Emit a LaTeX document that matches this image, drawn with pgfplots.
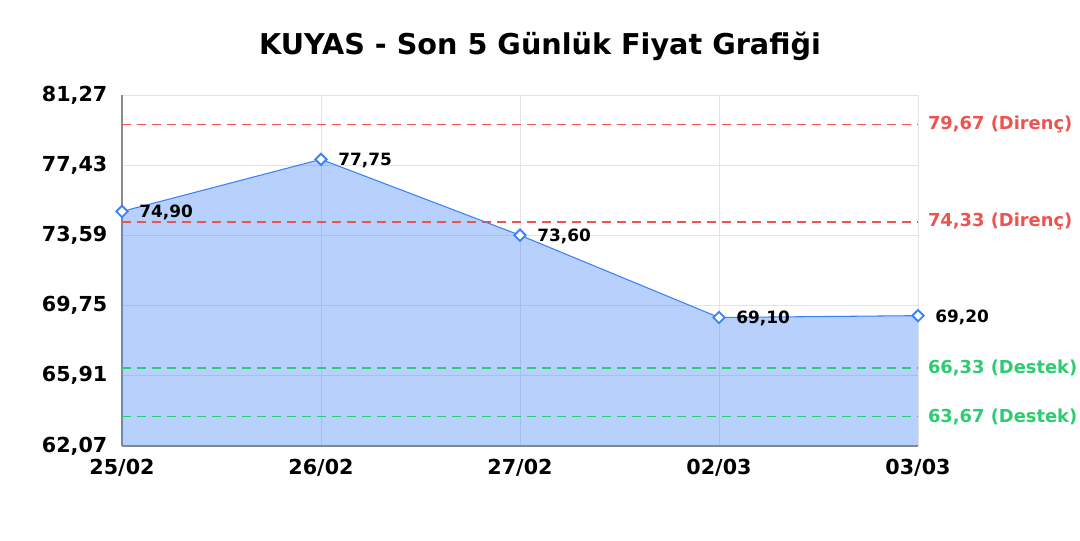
\documentclass[border=0pt]{standalone}
\usepackage{pgfplots}
\pgfplotsset{compat=1.18}
\usepackage{fontspec}
\setmainfont{DejaVu Sans}
\definecolor{lineblue}{RGB}{59,130,246}
\definecolor{resred}{RGB}{239,83,80}
\definecolor{supgreen}{RGB}{46,204,113}
\definecolor{gridgray}{RGB}{228,228,228}
\definecolor{spinegray}{RGB}{140,140,140}
\begin{document}
\begin{tikzpicture}
\useasboundingbox (-91.5pt,-70.5pt) rectangle (718.5pt,334.5pt);
\begin{axis}[
  at={(0pt,0pt)}, anchor=south west,
  scale only axis, width=597pt, height=263.25pt,
  xmin=0, xmax=4, ymin=62.07, ymax=81.27,
  xtick={0,1,2,3,4},
  xticklabels={25/02,26/02,27/02,02/03,03/03},
  ytick={62.07,65.91,69.75,73.59,77.43,81.27},
  /pgf/number format/fixed,
  /pgf/number format/fixed zerofill,
  /pgf/number format/precision=2,
  /pgf/number format/use comma,
  /pgf/number format/assume math mode=true,
  ticklabel style={font=\fontsize{15.5}{18}\selectfont\bfseries},
  xticklabel style={yshift=-6pt},
  yticklabel style={xshift=-7.5pt},
  major tick length=0pt,
  grid=major,
  major grid style={gridgray, line width=0.75pt},
  axis x line*=bottom, axis y line*=left,
  axis line style={spinegray, line width=0.9pt, -},
  clip=false,
]
\addplot[draw=none, fill=lineblue, fill opacity=0.37] coordinates {
(0,74.90) (1,77.75) (2,73.60) (3,69.10) (4,69.20)} -- (axis cs:4,62.07) -- (axis cs:0,62.07) -- cycle;
\addplot[resred, line width=1.1pt, dash pattern=on 6.75pt off 4.5pt] coordinates {(0,79.67) (4,79.67)};
\addplot[resred, line width=1.1pt, dash pattern=on 6.75pt off 4.5pt] coordinates {(0,74.33) (4,74.33)};
\addplot[supgreen, line width=1.1pt, dash pattern=on 6.75pt off 4.5pt] coordinates {(0,66.33) (4,66.33)};
\addplot[supgreen, line width=1.1pt, dash pattern=on 6.75pt off 4.5pt] coordinates {(0,63.67) (4,63.67)};
\addplot[lineblue, line width=0.8pt, mark=square*, mark size=3pt,
  mark options={fill=white, draw=lineblue, line width=1.4pt, rotate=45},
  point meta=explicit symbolic,
  nodes near coords, nodes near coords align={anchor=west},
  every node near coord/.append style={font=\fontsize{12.7}{15}\selectfont\bfseries, black, xshift=9pt, yshift=-1pt}]
 coordinates {
(0,74.90) [74,90]
(1,77.75) [77,75]
(2,73.60) [73,60]
(3,69.10) [69,10]
(4,69.20) [69,20]};
\node[anchor=west, resred, font=\fontsize{13.4}{16}\selectfont\bfseries] at (axis cs:4,79.67) {\hspace{4pt}79,67 (Direnç)};
\node[anchor=west, resred, font=\fontsize{13.4}{16}\selectfont\bfseries] at (axis cs:4,74.33) {\hspace{4pt}74,33 (Direnç)};
\node[anchor=west, supgreen, font=\fontsize{13.4}{16}\selectfont\bfseries] at (axis cs:4,66.33) {\hspace{4pt}66,33 (Destek)};
\node[anchor=west, supgreen, font=\fontsize{13.4}{16}\selectfont\bfseries] at (axis cs:4,63.67) {\hspace{4pt}63,67 (Destek)};
\end{axis}
\node[font=\fontsize{21.5}{25}\selectfont\bfseries] at (313.5pt,300pt) {KUYAS - Son 5 Günlük Fiyat Grafiği};
\end{tikzpicture}
\end{document}
